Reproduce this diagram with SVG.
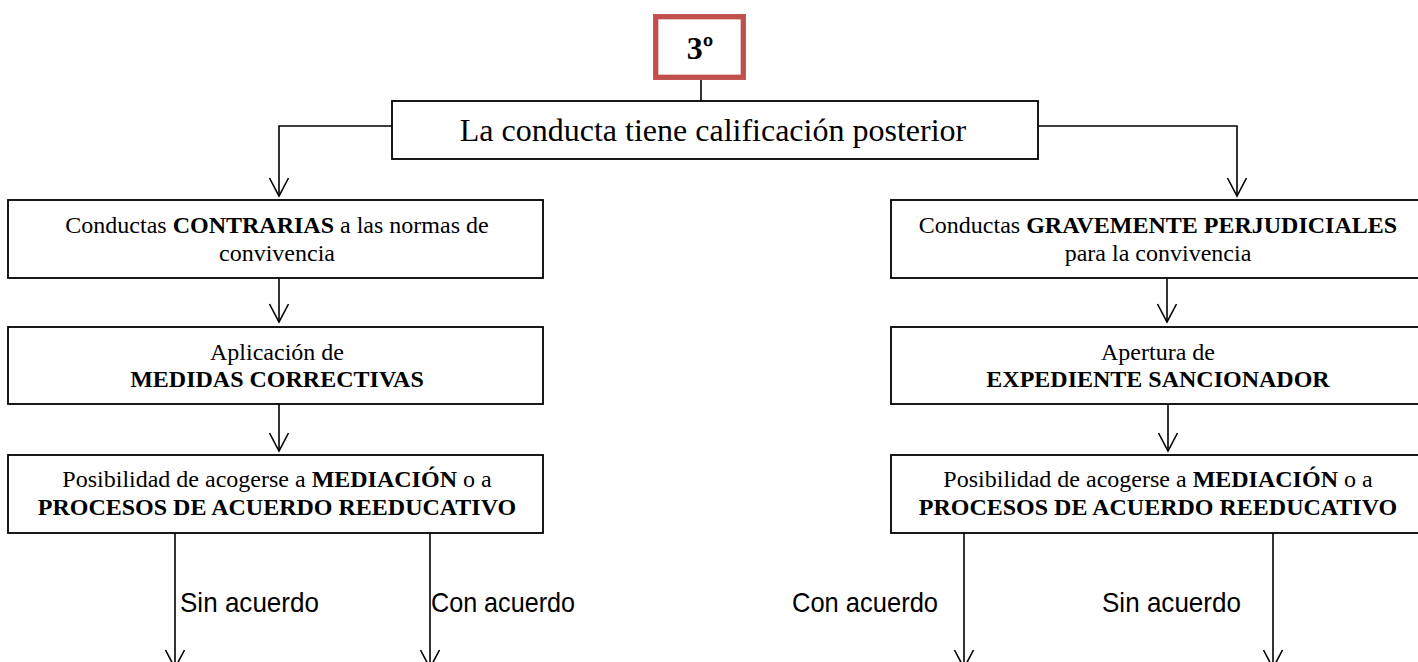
<svg xmlns="http://www.w3.org/2000/svg" width="1418" height="662" viewBox="0 0 1418 662">
  <style>
    .box { fill: #ffffff; stroke: #000000; stroke-width: 1.8; }
    .red { fill: #ffffff; stroke: #c0504d; stroke-width: 5.3; }
    .t { font-family: "Liberation Serif", "Times New Roman", serif; font-size: 24px; text-anchor: middle; fill: #000; }
    .big { font-size: 32px; }
    .b { font-weight: bold; }
    .lbl { font-family: "Liberation Sans", Arial, sans-serif; font-size: 28px; fill: #000; }
    .c { fill: none; stroke: #000000; stroke-width: 1.6; }
    .arr { marker-end: url(#open); }
  </style>
  <defs>
    <marker id="open" markerUnits="userSpaceOnUse" viewBox="-20 -11 22 22" markerWidth="22" markerHeight="22" refX="0" refY="0" orient="auto" overflow="visible">
      <path d="M-18,-9.5 L0,0 L-18,9.5" fill="none" stroke="#000" stroke-width="1.6"/>
    </marker>
  </defs>

  <g id="connectors">
    <path class="c" d="M701,80 V101"/>
    <path class="c arr" d="M392,126 H279 V196"/>
    <path class="c arr" d="M1038,126 H1237 V196"/>
    <path class="c arr" d="M279,278 V322"/>
    <path class="c arr" d="M279,404 V451"/>
    <path class="c arr" d="M1167,278 V322"/>
    <path class="c arr" d="M1168,404 V451"/>
    <path class="c arr" d="M175,533 V668"/>
    <path class="c arr" d="M430,533 V668"/>
    <path class="c arr" d="M964,533 V668"/>
    <path class="c arr" d="M1273,533 V668"/>
  </g>

  <g id="step3">
    <rect class="red" x="655.7" y="16.7" width="87.6" height="60.6"/>
    <text class="t big b" x="700" y="59">3º</text>
  </g>

  <g id="main">
    <rect class="box" x="392" y="101" width="646" height="58"/>
    <text class="t big" x="713" y="141">La conducta tiene calificación posterior</text>
  </g>

  <g id="contrarias">
    <rect class="box" x="8" y="200" width="535" height="78"/>
    <text class="t" x="277" y="233">Conductas <tspan class="b">CONTRARIAS</tspan> a las normas de</text>
    <text class="t" x="277" y="261">convivencia</text>
  </g>

  <g id="medidas">
    <rect class="box" x="8" y="327" width="535" height="77"/>
    <text class="t" x="277" y="360">Aplicación de</text>
    <text class="t b" x="277" y="387">MEDIDAS CORRECTIVAS</text>
  </g>

  <g id="mediacion-left">
    <rect class="box" x="8" y="455" width="535" height="78"/>
    <text class="t" x="277" y="487">Posibilidad de acogerse a <tspan class="b">MEDIACIÓN</tspan> o a</text>
    <text class="t b" x="277" y="515">PROCESOS DE ACUERDO REEDUCATIVO</text>
  </g>

  <g id="graves">
    <rect class="box" x="891" y="200" width="535" height="78"/>
    <text class="t" x="1158" y="233">Conductas <tspan class="b">GRAVEMENTE PERJUDICIALES</tspan></text>
    <text class="t" x="1158" y="261">para la convivencia</text>
  </g>

  <g id="expediente">
    <rect class="box" x="891" y="327" width="535" height="77"/>
    <text class="t" x="1158" y="360">Apertura de</text>
    <text class="t b" x="1158" y="387">EXPEDIENTE SANCIONADOR</text>
  </g>

  <g id="mediacion-right">
    <rect class="box" x="891" y="455" width="535" height="78"/>
    <text class="t" x="1158" y="487">Posibilidad de acogerse a <tspan class="b">MEDIACIÓN</tspan> o a</text>
    <text class="t b" x="1158" y="515">PROCESOS DE ACUERDO REEDUCATIVO</text>
  </g>

  <g id="labels">
    <text class="lbl" x="180" y="612" textLength="139" lengthAdjust="spacingAndGlyphs">Sin acuerdo</text>
    <text class="lbl" x="431" y="612" textLength="144" lengthAdjust="spacingAndGlyphs">Con acuerdo</text>
    <text class="lbl" x="792" y="612" textLength="146" lengthAdjust="spacingAndGlyphs">Con acuerdo</text>
    <text class="lbl" x="1102" y="612" textLength="139" lengthAdjust="spacingAndGlyphs">Sin acuerdo</text>
  </g>
</svg>
